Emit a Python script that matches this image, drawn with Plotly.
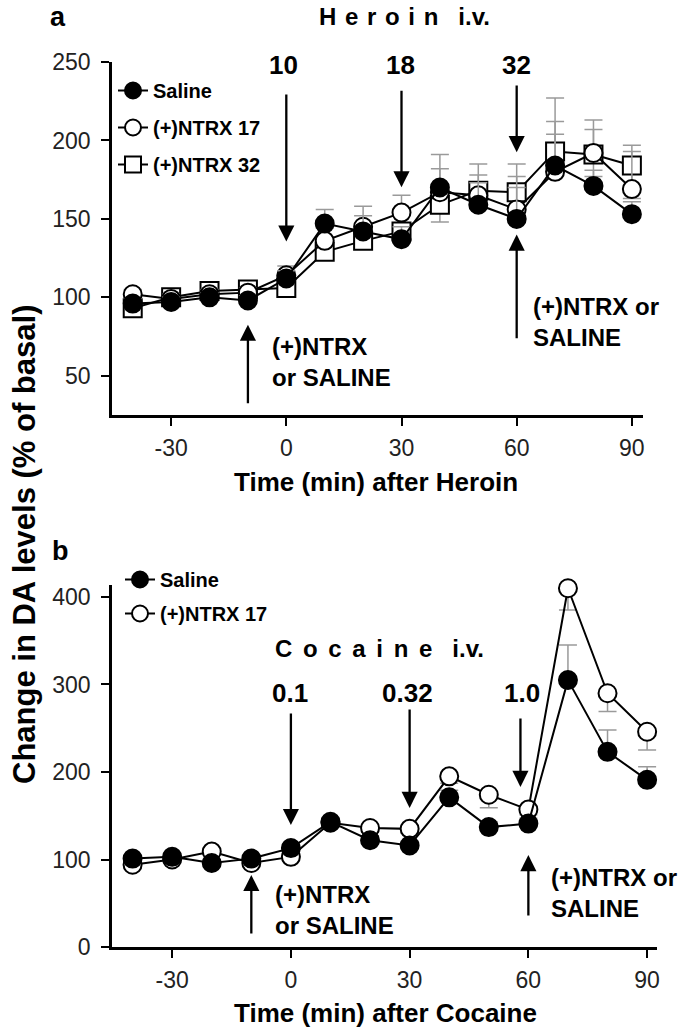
import plotly.graph_objects as go

# ---------------- data ----------------
time = [-40, -30, -20, -10, 0, 10, 20, 30, 40, 50, 60, 70, 80, 90]

# Panel a: Heroin i.v.
sal_a = [96, 97, 100, 98, 112, 147, 142, 137, 170, 159, 150, 184, 171, 153]
n17_a = [102, 99, 102, 103, 114, 136, 145, 154, 167, 165, 156, 180, 192, 169]
n32_a = [93, 100, 104, 105, 106, 129, 136, 142, 159, 168, 167, 193, 191, 184]
sal_a_err = [3, 3, 3, 3, 5, 9, 10, 8, 21, 14, 20, 20, 10, 8]
n17_a_err = [3, 3, 3, 3, 6, 8, 13, 11, 15, 13, 21, 32, 15, 24]
n32_a_err = [3, 3, 3, 3, 5, 6, 7, 13, 11, 17, 18, 34, 22, 13]
n32_a_errm = [0, 0, 0, 0, 0, 0, 0, 0, 11, 0, 0, 0, 14, 21]

# Panel b: Cocaine i.v.
sal_b = [101, 103, 96, 101, 113, 143, 122, 116, 171, 137, 141, 305, 223, 191]
n17_b = [94, 100, 109, 96, 103, 142, 136, 135, 195, 174, 157, 410, 290, 246]
sal_b_err = [3, 3, 3, 3, 4, 5, 5, 5, 8, 6, 6, 40, 25, 15]
n17_b_errm = [3, 3, 3, 3, 4, 5, 5, 5, 8, 15, 6, 25, 21, 21]

xticks = [-30, 0, 30, 60, 90]
xticklabels = ["-30", "0", "30", "60", "90"]
yticks_a = [50, 100, 150, 200, 250]
yticks_b = [0, 100, 200, 300, 400]

heroin_doses = ["10", "18", "32"]
heroin_dose_t = [0, 30, 60]
cocaine_doses = ["0.1", "0.32", "1.0"]
cocaine_dose_t = [0, 30, 58]

FONT = "Liberation Sans, Arial, Helvetica, sans-serif"
ERRC = "#9a9a9a"

# ---------------- figure ----------------
W, H = 681, 1030
L, R, T, B = 112, 24, 62, 83
PW = W - L - R
PH = H - T - B


def PX(x):
    return (x - L) / PW


def PY(y):
    return (H - B - y) / PH


fig = go.Figure()


def add_series(x, y, name, symbol, fill, xa, ya, legend, rank, err=None, errm=None):
    ey = None
    if err is not None or errm is not None:
        ey = dict(type="data", symmetric=False,
                  array=err if err is not None else [0] * len(y),
                  arrayminus=errm if errm is not None else [0] * len(y),
                  color=ERRC, thickness=1.5, width=9)
    fig.add_trace(go.Scatter(
        x=x, y=y, name=name, mode="lines+markers", cliponaxis=False,
        xaxis=xa, yaxis=ya, legend=legend, legendrank=rank, legendgroup=name + legend,
        line=dict(color="black", width=2),
        marker=dict(symbol=symbol, size=18, color=fill, line=dict(color="black", width=2)),
        error_y=ey,
    ))


# panel a
add_series(time, n32_a, "(+)NTRX 32", "square", "white", "x", "y", "legend", 3, n32_a_err, n32_a_errm)
add_series(time, n17_a, "(+)NTRX 17", "circle", "white", "x", "y", "legend", 2, n17_a_err)
add_series(time, sal_a, "Saline", "circle", "black", "x", "y", "legend", 1, sal_a_err)
# panel b
add_series(time, n17_b, "(+)NTRX 17", "circle", "white", "x2", "y2", "legend2", 2, None, n17_b_errm)
add_series(time, sal_b, "Saline", "circle", "black", "x2", "y2", "legend2", 1, sal_b_err)

axis_common = dict(showline=True, linecolor="black", linewidth=2.5, ticks="outside",
                   ticklen=8, tickwidth=2, tickcolor="black", showgrid=False, zeroline=False,
                   tickfont=dict(family=FONT, size=23, color="#222"))

fig.update_layout(
    width=W, height=H, margin=dict(l=L, r=R, t=T, b=B),
    plot_bgcolor="white", paper_bgcolor="white",
    font=dict(family=FONT, color="black"),
    xaxis=dict(domain=[0, 531 / PW], range=[-45.4, 92.9], anchor="y", tickvals=xticks,
               ticktext=xticklabels, ticklabelstandoff=3, **axis_common),
    yaxis=dict(domain=[PY(415), 1], range=[25, 250], anchor="x", tickvals=yticks_a,
               ticklabelstandoff=6, **axis_common),
    xaxis2=dict(domain=[0, 1], range=[-45.2, 92.5], anchor="y2", tickvals=xticks,
                ticktext=xticklabels, ticklabelstandoff=3, **axis_common),
    yaxis2=dict(domain=[0, PY(585)], range=[0, 413.7], anchor="x2", tickvals=yticks_b,
                ticklabelstandoff=6, **axis_common),
    legend=dict(x=PX(113), y=PY(71), xanchor="left", yanchor="top", bgcolor="rgba(0,0,0,0)",
                font=dict(family=FONT, size=20, color="black", weight="bold"),
                traceorder="grouped", tracegroupgap=8, itemwidth=30),
    legend2=dict(x=PX(120), y=PY(560), xanchor="left", yanchor="top", bgcolor="rgba(0,0,0,0)",
                 font=dict(family=FONT, size=20, color="black", weight="bold"),
                 traceorder="grouped", tracegroupgap=5, itemwidth=30),
    showlegend=True,
)

ann = []


def text(cx, cy, s, size, bold=True, xanchor="center", align="center", angle=0):
    ann.append(dict(x=PX(cx), y=PY(cy), xref="paper", yref="paper", text=s, showarrow=False,
                    xanchor=xanchor, yanchor="middle", align=align, textangle=angle,
                    font=dict(family=FONT, size=size, color="black",
                              weight="bold" if bold else "normal")))


def arrow(xref, yref, t, y_tail, y_tip):
    ann.append(dict(x=t, y=y_tip, xref=xref, yref=yref, ax=t, ay=y_tail, axref=xref, ayref=yref,
                    showarrow=True, arrowhead=2, arrowsize=1.4, arrowwidth=2.3, arrowcolor="black",
                    text=""))


NB = "\u00a0"
HS = "\u200a"
# panel a labels
text(58, 17, "a", 27)
text(404, 17, (NB + HS).join(list("Heroin")) + NB * 3 + "i.v.", 24)
for d, cx in zip(heroin_doses, [283, 400, 516]):
    text(cx, 65, d, 26)
arrow("x", "y", 0, 230.2, 135.6)
arrow("x", "y", 30, 232.7, 170.1)
arrow("x", "y", 60, 236.0, 192.5)
arrow("x", "y", -10, 31.5, 82.6)
arrow("x", "y", 60, 73.0, 140.0)
text(270, 362, "(+)NTRX<br>or SALINE", 24, xanchor="left", align="left")
text(531, 322, "(+)NTRX or<br>SALINE", 24, xanchor="left", align="left")
text(376, 482, "Time (min) after Heroin", 26)

# panel b labels
text(60, 551, "b", 27)
text(379, 648, (NB + "\u2006").join(list("Cocaine")) + NB * 3 + "i.v.", 24)
for d, cx in zip(cocaine_doses, [290, 407, 522]):
    text(cx, 693, d, 26)
arrow("x2", "y2", 0, 268.6, 139.4)
arrow("x2", "y2", 30, 273.0, 158.9)
arrow("x2", "y2", 58, 262.9, 182.9)
arrow("x2", "y2", -10, 13.7, 82.3)
arrow("x2", "y2", 60, 34.3, 105.0)
text(273, 910, "(+)NTRX<br>or SALINE", 24, xanchor="left", align="left")
text(549, 893, "(+)NTRX or<br>SALINE", 24, xanchor="left", align="left")
text(385, 1013, "Time (min) after Cocaine", 26)

# shared y title
text(24, 545, "Change in DA levels (% of basal)", 31, angle=-90)

fig.update_layout(annotations=ann)
fig.write_html("out.html", config={"displayModeBar": False},
               post_script="document.body.style.margin='0';document.body.style.padding='0';")
